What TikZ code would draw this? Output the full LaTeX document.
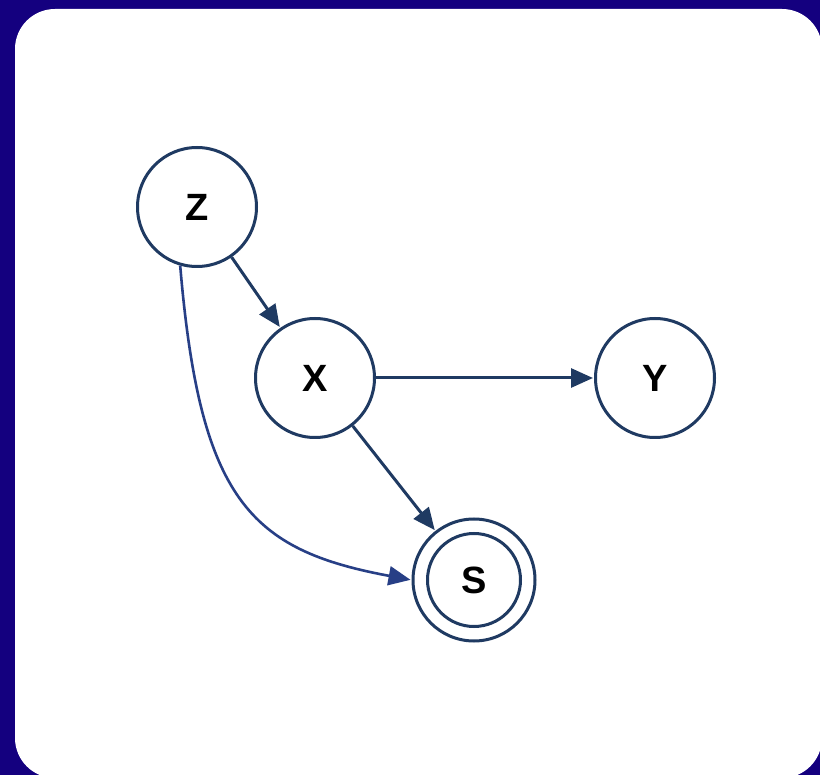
\documentclass[tikz,border=0pt]{standalone}
\usepackage{fontspec}
\setmainfont{Liberation Sans}
\usetikzlibrary{arrows.meta}
\definecolor{bgblue}{HTML}{14007F}
\definecolor{navy}{HTML}{1F3A62}
\definecolor{curveblue}{HTML}{273F86}
\begin{document}
\begin{tikzpicture}[x=1pt,y=-1pt,
  var/.style={circle,draw=navy,line width=3pt,minimum size=119pt,inner sep=0pt,font=\fontsize{38}{40}\selectfont\bfseries},
  edge/.style={draw=navy,line width=3pt,shorten >=1pt,-{Triangle[length=22pt,width=19pt]}}]
\fill[bgblue] (0,0) rectangle (820,775);
\useasboundingbox (0,0) rectangle (820,775);
\fill[white,rounded corners=40pt] (15,9) rectangle (822,778);
\node[var] (Z) at (197,207) {Z};
\node[var] (X) at (315,378) {X};
\node[var] (Y) at (655,378) {Y};
\node[var,minimum size=122pt] (S) at (474,580) {S};
\node[circle,draw=navy,line width=3pt,minimum size=93pt,inner sep=0pt] (Si) at (474,580) {};
\draw[edge] (Z) -- (X);
\draw[edge] (X) -- (Y);
\draw[edge] (X) -- (S);
\draw[edge,draw=curveblue,line width=2.6pt] (Z.-106) .. controls (200,500) and (250,550) .. (S.west);
\end{tikzpicture}
\end{document}
